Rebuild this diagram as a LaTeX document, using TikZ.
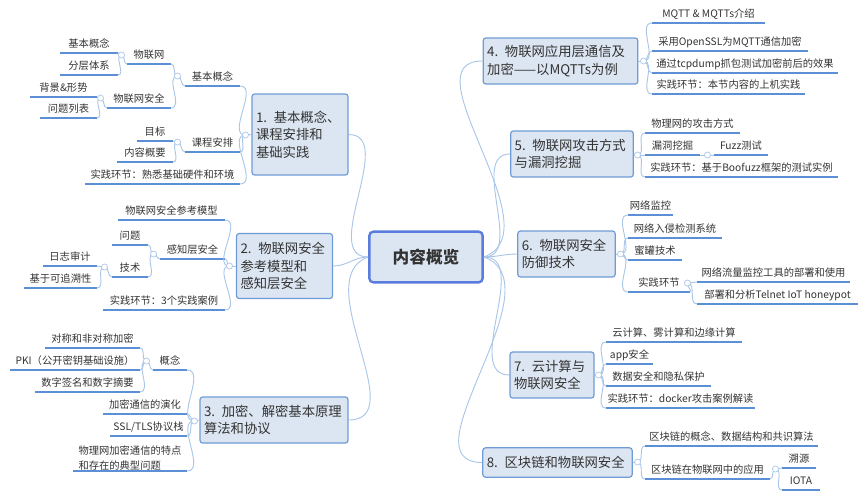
\documentclass[tikz,border=0pt]{standalone}
\usepackage{fontspec}
\setmainfont{Noto Sans CJK SC}
\usetikzlibrary{calc}
\definecolor{boxfill}{HTML}{DCE6F2}
\definecolor{boxline}{HTML}{6F9BD6}
\definecolor{ulc}{HTML}{5B8FD6}
\definecolor{conc}{HTML}{A9C6E8}
\definecolor{txt}{HTML}{333333}
\tikzset{
  uline/.style={draw=ulc,line width=1.1pt},
  conn/.style={draw=conc,line width=0.7pt},
  lt/.style={font=\fontsize{7.7}{9}\selectfont,text=txt,inner sep=0pt},
  topic/.style={draw=boxline,fill=boxfill,rounded corners=2pt,line width=0.9pt,align=left,
     font=\fontsize{10}{13}\selectfont,text=txt,inner xsep=3pt,inner ysep=4pt,text width=#1},
  central/.style={draw=boxline!80!blue,fill=boxfill,rounded corners=3pt,line width=1.8pt,
     font=\fontsize{12.5}{14}\selectfont\bfseries,text=txt,minimum width=85pt,minimum height=38pt},
  ring/.style={draw=conc,line width=0.5pt,fill=white}
}
\newcommand\leaf[5]{\coordinate (#1l) at (#2,#4); \coordinate (#1r) at (#3,#4);
  \draw[uline] (#1l) -- (#1r);
  \node[lt] (#1) at ($(#1l)!0.5!(#1r)+(0,-9)$) {#5};}
\newcommand\bl[2]{\draw[conn] (#1) to[out=180,in=0] (#2);}
\newcommand\brr[2]{\draw[conn] (#1) to[out=0,in=180] (#2);}
\newcommand\rg[3]{\coordinate (#1) at (#2,#3);}
\begin{document}
\begin{tikzpicture}[x=0.75pt,y=-0.75pt]
\useasboundingbox (0,0) rectangle (868,500);
% central
\node[central] (c) at (426,257) {内容概览};
% topic boxes
\node[topic=66pt,minimum height=60.75pt] (t1) at (300,134.5) {1. 基本概念、\\课程安排和\\基础实践};
\node[topic=66pt,minimum height=48.75pt] (t2) at (284.5,266) {2. 物联网安全\\参考模型和\\感知层安全};
\node[topic=105pt,minimum height=34.5pt] (t3) at (274,420) {3. 加密、解密基本原理\\算法和协议};
\node[topic=110pt,minimum height=34.5pt] (t4) at (560.5,61) {4. 物联网应用层通信及\\加密——以MQTTs为例};
\node[topic=86pt,minimum height=34.5pt] (t5) at (572,154) {5. 物联网攻击方式\\与漏洞挖掘};
\node[topic=67pt,minimum height=34.5pt] (t6) at (566.5,254) {6. 物联网安全\\防御技术};
\node[topic=57pt,minimum height=34.5pt] (t7) at (552,375) {7. 云计算与\\物联网安全};
\node[topic=106pt,minimum height=22pt] (t8) at (557.5,462.5) {8. 区块链和物联网安全};
% central links
\draw[conn] (c.west) to[out=180,in=0] (t1.east);
\draw[conn] (c.west) to[out=180,in=0] (t2.east);
\draw[conn] (c.west) to[out=200,in=0] (t3.east);
\draw[conn] (c.east) to[out=20,in=180] (t4.west);
\draw[conn] (c.east) to[out=0,in=180] (t5.west);
\draw[conn] (c.east) to[out=0,in=180] (t6.west);
\draw[conn] (c.east) to[out=0,in=180] (t7.west);
\draw[conn] (c.east) to[out=-20,in=180] (t8.west);
% ---- topic 1
\leaf{a}{185}{240}{86}{基本概念}
\leaf{aa}{127}{171}{64}{物联网}
\leaf{aaa}{60}{118}{53}{基本概念}
\leaf{aab}{60}{118}{75}{分层体系}
\leaf{ab}{107}{171}{108}{物联网安全}
\leaf{aba}{30}{97}{97}{背景\&形势}
\leaf{abb}{40}{97}{118}{问题列表}
\leaf{b}{185}{240}{152}{课程安排}
\leaf{ba}{137}{173}{141}{目标}
\leaf{bb}{117}{173}{162}{内容概要}
\leaf{bc}{85}{240}{184}{实践环节：熟悉基础硬件和环境}
\rg{r1}{245.5}{135}\bl{t1.west}{r1}
\bl{r1}{ar}\bl{r1}{br}\bl{r1}{bcr}
\rg{ra}{177.5}{76}\bl{al}{ra}\bl{ra}{aar}\bl{ra}{abr}
\rg{raa}{121.5}{55}\bl{aal}{raa}\bl{raa}{aaar}\bl{raa}{aabr}
\rg{rab}{100.5}{98}\bl{abl}{rab}\bl{rab}{abar}\bl{rab}{abbr}
\rg{rb}{177.5}{142}\bl{bl}{rb}\bl{rb}{bar}\bl{rb}{bbr}
% ---- topic 2
\leaf{d}{118}{225}{220}{物联网安全参考模型}
\leaf{e}{160}{225}{259}{感知层安全}
\leaf{ea}{112}{148}{245}{问题}
\leaf{eb}{112}{148}{277}{技术}
\leaf{eba}{43}{97}{266}{日志审计}
\leaf{ebb}{24}{97}{288}{基于可追溯性}
\leaf{f}{103}{225}{310}{实践环节：3个实践案例}
\rg{r2}{229.5}{266}\bl{t2.west}{r2}
\bl{r2}{dr}\bl{r2}{er}\bl{r2}{fr}
\rg{re}{153.5}{254}\bl{el}{re}\bl{re}{ear}\bl{re}{ebr}
\rg{reb}{104.5}{267}\bl{ebl}{reb}\bl{reb}{ebar}\bl{reb}{ebbr}
% ---- topic 3
\leaf{g}{153}{187}{370}{概念}
\leaf{ga}{45}{140}{348}{对称和非对称加密}
\leaf{gb}{10}{140}{370}{PKI（公开密钥基础设施）}
\leaf{gc}{35}{140}{392}{数字签名和数字摘要}
\leaf{h}{103}{187}{414}{加密通信的演化}
\leaf{i}{110}{187}{436}{SSL/TLS协议栈}
\coordinate (jl) at (73,471); \coordinate (jr) at (187,471);
\draw[uline] (jl) -- (jr);
\node[lt,align=left,font=\fontsize{7.7}{11}\selectfont] (j) at (130,458) {物理网加密通信的特点\\和存在的典型问题};
\rg{r3}{194.5}{421}\bl{t3.west}{r3}
\bl{r3}{gr}\bl{r3}{hr}\bl{r3}{ir}\bl{r3}{jr}
\rg{rg}{146.5}{361}\bl{gl}{rg}\bl{rg}{gar}\bl{rg}{gbr}\bl{rg}{gcr}
% ---- topic 4
\leaf{k}{652}{765}{23}{MQTT \& MQTTs介绍}
\leaf{l}{652}{808}{51}{采用OpenSSL为MQTT通信加密}
\leaf{m}{652}{838}{73}{通过tcpdump抓包测试加密前后的效果}
\leaf{n}{652}{805}{94}{实践环节：本节内容的上机实践}
\rg{r4}{643.5}{61}\brr{t4.east}{r4}
\brr{r4}{kl}\brr{r4}{ll}\brr{r4}{ml}\brr{r4}{nl}
% ---- topic 5
\leaf{o}{645}{740}{133}{物理网的攻击方式}
\leaf{p}{645}{700}{155}{漏洞挖掘}
\leaf{pa}{714}{768}{155}{Fuzz测试}
\leaf{q}{645}{838}{177}{实践环节：基于Boofuzz框架的测试实例}
\rg{r5}{637.5}{155}\brr{t5.east}{r5}
\brr{r5}{ol}\brr{r5}{pl}\brr{r5}{ql}
\rg{rp}{707.5}{155}\brr{pr}{rp}\brr{rp}{pal}
% ---- topic 6
\leaf{s}{628}{673}{215}{网络监控}
\leaf{u}{628}{722}{238}{网络入侵检测系统}
\leaf{v}{628}{682}{260}{蜜罐技术}
\leaf{w}{628}{690}{292}{实践环节}
\leaf{wa}{697}{850}{282}{网络流量监控工具的部署和使用}
\leaf{wb}{697}{858}{304}{部署和分析Telnet IoT honeypot}
\rg{r6}{620.5}{254}\brr{t6.east}{r6}
\brr{r6}{sl}\brr{r6}{ul}\brr{r6}{vl}\brr{r6}{wl}
\rg{rw}{687.5}{283}\brr{wr}{rw}\brr{rw}{wal}\brr{rw}{wbl}
% ---- topic 7
\leaf{x}{606}{742}{342}{云计算、雾计算和边缘计算}
\leaf{y}{606}{653}{364}{app安全}
\leaf{z}{606}{711}{386}{数据安全和隐私保护}
\leaf{zz}{606}{755}{408}{实践环节：docker攻击案例解读}
\rg{r7}{598.5}{375}\brr{t7.east}{r7}
\brr{r7}{xl}\brr{r7}{yl}\brr{r7}{zl}\brr{r7}{zzl}
% ---- topic 8
\leaf{bx}{645}{818}{446}{区块链的概念、数据结构和共识算法}
\leaf{by}{645}{770}{479}{区块链在物联网中的应用}
\leaf{bya}{782}{816}{468}{溯源}
\leaf{byb}{782}{820}{490}{IOTA}
\rg{r8}{637.5}{462}\brr{t8.east}{r8}
\brr{r8}{bxl}\brr{r8}{byl}
\rg{rby}{775.5}{469}\brr{byr}{rby}\brr{rby}{byal}\brr{rby}{bybl}
% rings
\foreach \r in {r1,ra,raa,rab,rb,r2,re,reb,r3,rg,r4,r5,rp,r6,rw,r7,r8,rby}
  \draw[ring] (\r) circle (2.3pt);
\end{tikzpicture}
\end{document}
